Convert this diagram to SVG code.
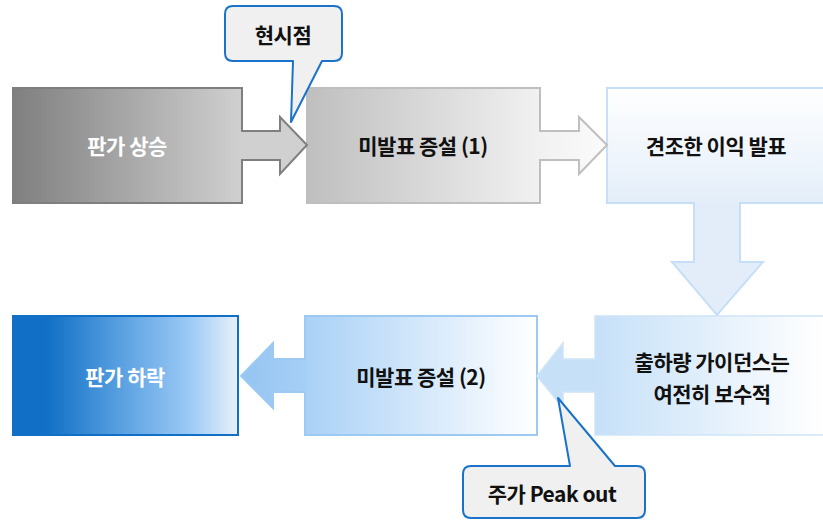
<svg xmlns="http://www.w3.org/2000/svg" width="823" height="520" viewBox="0 0 823 520">
<style>
text{font-family:"Noto Sans CJK KR","Noto Sans",sans-serif;font-size:21px;font-weight:700;text-anchor:middle;dominant-baseline:central;letter-spacing:-0.5px}
.w{fill:#ffffff}
.k{fill:#111111}
.callout{fill:#f0f0f0;stroke:#1a73c8;stroke-width:2;stroke-linejoin:round}
</style>
<defs>
<linearGradient id="g1" gradientUnits="userSpaceOnUse" x1="13" y1="0" x2="242" y2="0">
<stop offset="0" stop-color="#7f7f7f"/><stop offset="1" stop-color="#d0d0d0"/></linearGradient>
<linearGradient id="g2" gradientUnits="userSpaceOnUse" x1="307" y1="0" x2="607" y2="0">
<stop offset="0" stop-color="#bfbfbf"/><stop offset="0.78" stop-color="#f1f1f1"/><stop offset="1" stop-color="#fbfbfb"/></linearGradient>
<linearGradient id="g3" gradientUnits="userSpaceOnUse" x1="0" y1="88" x2="0" y2="210">
<stop offset="0" stop-color="#ffffff"/><stop offset="1" stop-color="#e2edf9"/></linearGradient>
<linearGradient id="g4" gradientUnits="userSpaceOnUse" x1="595" y1="0" x2="823" y2="0">
<stop offset="0" stop-color="#c6e0f8"/><stop offset="1" stop-color="#ffffff"/></linearGradient>
<linearGradient id="g5" gradientUnits="userSpaceOnUse" x1="305" y1="0" x2="537" y2="0">
<stop offset="0" stop-color="#a9d1f6"/><stop offset="1" stop-color="#ffffff"/></linearGradient>
<linearGradient id="g5a" gradientUnits="userSpaceOnUse" x1="241" y1="0" x2="305" y2="0">
<stop offset="0" stop-color="#94c4f2"/><stop offset="1" stop-color="#a6cff5"/></linearGradient>
<linearGradient id="g6" gradientUnits="userSpaceOnUse" x1="13" y1="0" x2="238" y2="0">
<stop offset="0" stop-color="#1170c6"/><stop offset="0.15" stop-color="#1170c6"/><stop offset="0.5" stop-color="#5ea3e2"/><stop offset="0.78" stop-color="#9ac9f5"/><stop offset="1" stop-color="#e8f0fa"/></linearGradient>
</defs>

<g id="node-price-up">
<rect x="13" y="88" width="229" height="115" fill="url(#g1)" stroke="#7f7f7f" stroke-width="2"/>
<text class="w" x="127" y="145">판가 상승</text>
</g>
<g id="node-capacity-1">
<rect x="307" y="88" width="233" height="115" fill="url(#g2)" stroke="#bfbfbf" stroke-width="2"/>
<text class="k" x="423" y="145">미발표 증설 (1)</text>
</g>
<g id="node-earnings">
<rect x="607" y="88" width="230" height="115" fill="url(#g3)" stroke="#c6dff8" stroke-width="2"/>
<text class="k" x="716" y="145">견조한 이익 발표</text>
</g>
<g id="node-guidance">
<rect x="595" y="316" width="240" height="119" fill="url(#g4)" stroke="#cfe4f8" stroke-width="1.5"/>
<text class="k" x="712" y="361">출하량 가이던스는</text>
<text class="k" x="712" y="393">여전히 보수적</text>
</g>
<g id="node-capacity-2">
<rect x="305" y="316" width="232" height="119" fill="url(#g5)" stroke="#9ccaf3" stroke-width="2"/>
<text class="k" x="421" y="376">미발표 증설 (2)</text>
</g>
<g id="node-price-down">
<rect x="13" y="316" width="225" height="119" fill="url(#g6)" stroke="#1170c6" stroke-width="2"/>
<text class="w" x="125" y="376">판가 하락</text>
</g>

<g id="connectors" stroke-width="2" stroke-linejoin="miter">
<path d="M241,131 H280 V117 L307,145 L280,174 V160 H241" fill="url(#g1)" stroke="#7f7f7f"/>
<path d="M539,131 H579 V117 L607,145 L579,174 V160 H539" fill="url(#g2)" stroke="#bfbfbf"/>
<path d="M694,202 V262 H672 L717,315 L763,262 H740 V202" fill="#e2edf9" stroke="#c6dff8"/>
<path d="M596,359 H563 V343 L537,376 L563,408 V392 H596" fill="#c6e0f8" stroke="#cfe4f8" stroke-width="1.5"/>
<path d="M306,359 H273 V343 L241,376 L273,408 V392 H306" fill="url(#g5a)" stroke="#9ccaf3"/>
</g>

<g id="callout-now">
<path class="callout" d="M233,6 H334 Q342,6 342,14 V53 Q342,61 334,61 H322 L291,122 L293,61 H233 Q225,61 225,53 V14 Q225,6 233,6 Z"/>
<text class="k" x="283" y="34">현시점</text>
</g>
<g id="callout-peak">
<path class="callout" d="M471,466 H570 L558,398 L615,466 H637 Q645,466 645,474 V510 Q645,518 637,518 H471 Q463,518 463,510 V474 Q463,466 471,466 Z"/>
<text class="k" x="552" y="493">주가 Peak out</text>
</g>
</svg>
